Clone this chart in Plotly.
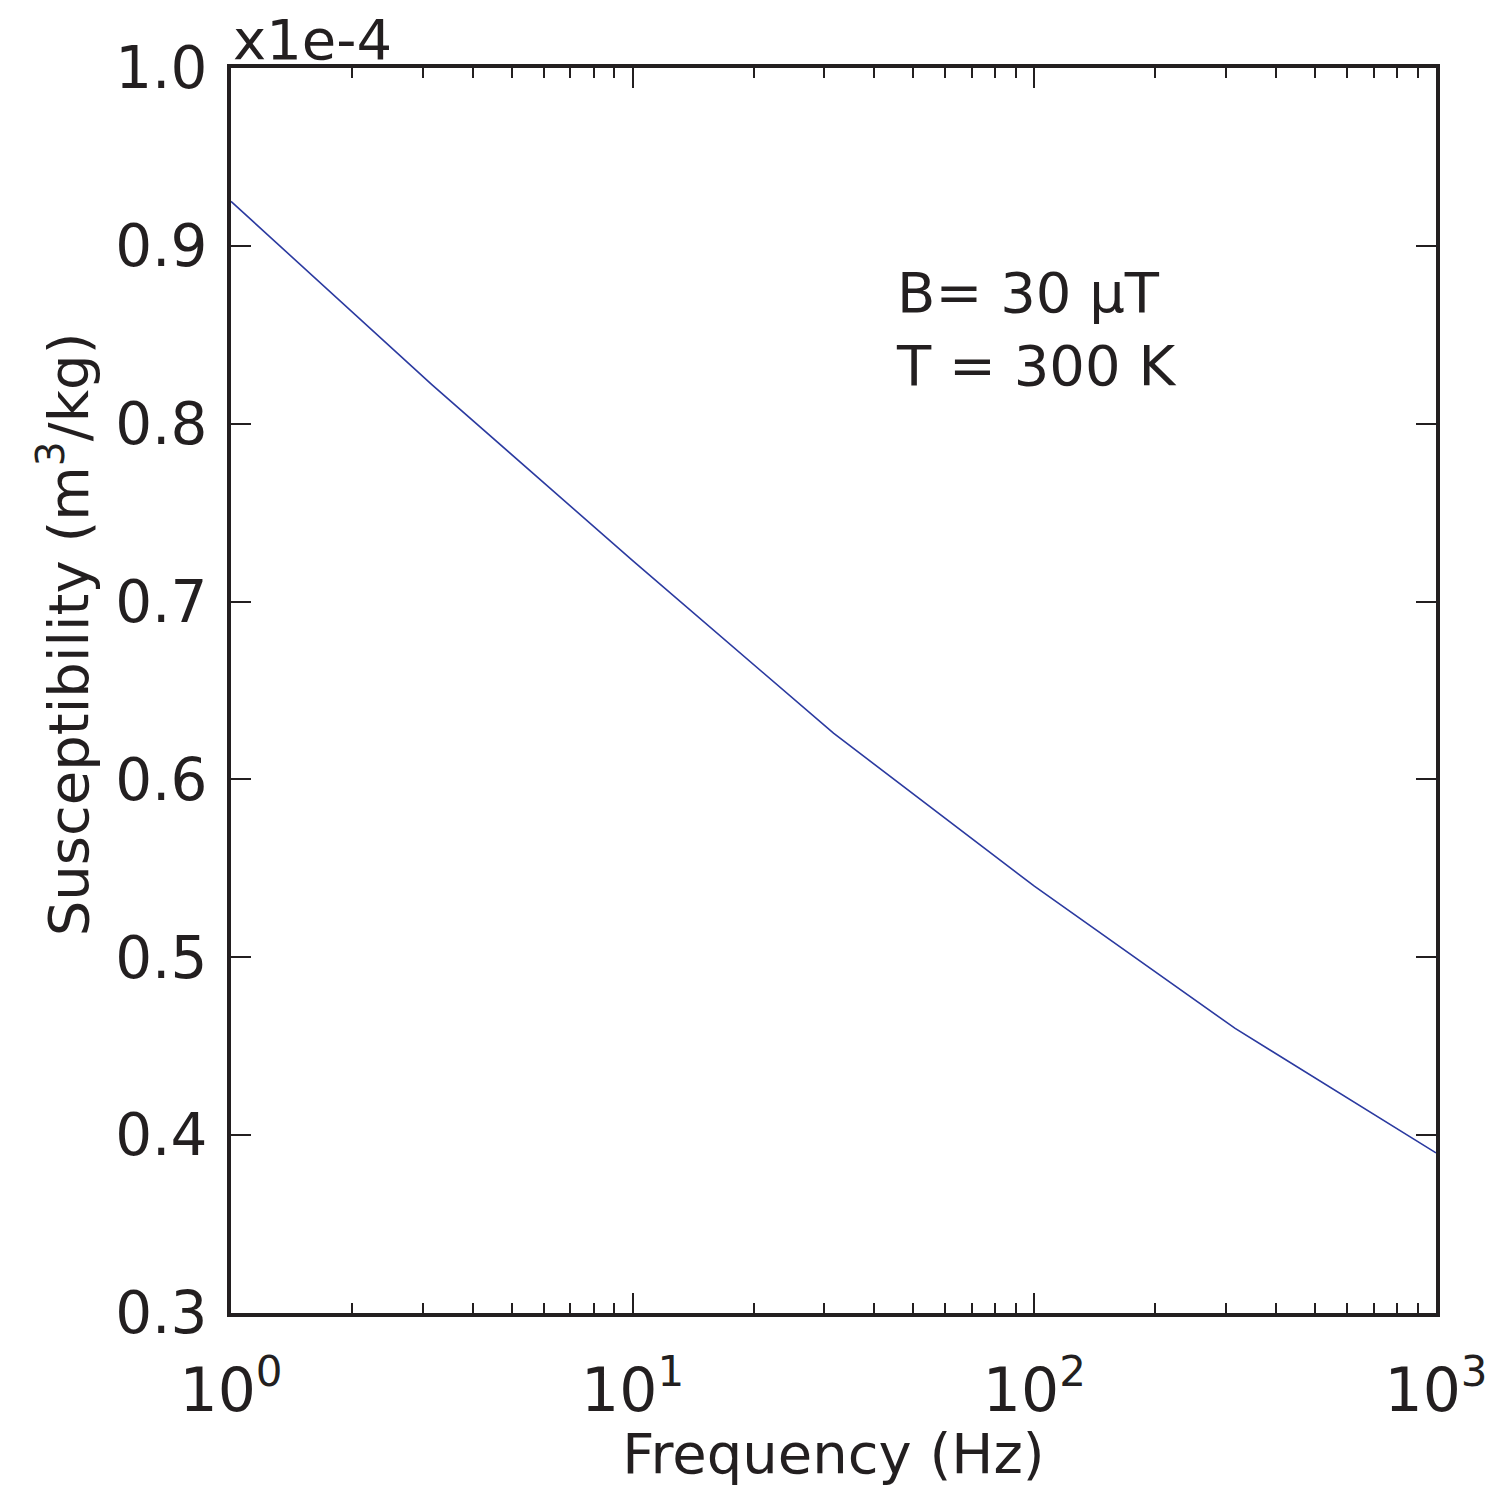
import plotly.graph_objects as go

freq_hz = [1, 3.162, 10, 31.62, 100, 316.2, 1000]
susceptibility_e4 = [0.925, 0.822, 0.723, 0.626, 0.540, 0.460, 0.390]

x_tickvals = [1, 10, 100, 1000]
x_ticktext = ["10<sup>0</sup>", "10<sup>1</sup>", "10<sup>2</sup>", "10<sup>3</sup>"]
x_minor_tickvals = [2, 3, 4, 5, 6, 7, 8, 9,
                    20, 30, 40, 50, 60, 70, 80, 90,
                    200, 300, 400, 500, 600, 700, 800, 900]
y_tickvals = [0.3, 0.4, 0.5, 0.6, 0.7, 0.8, 0.9, 1.0]
y_ticktext = ["0.3", "0.4", "0.5", "0.6", "0.7", "0.8", "0.9", "1.0"]

FONT = "DejaVu Sans"
INK = "#231f20"

fig = go.Figure()
fig.add_trace(go.Scatter(x=freq_hz, y=susceptibility_e4, mode="lines",
                         line=dict(color="#2b3aa0", width=1.6), showlegend=False))

fig.update_layout(
    width=1489, height=1486,
    margin=dict(l=231, r=53, t=68, b=173),
    paper_bgcolor="white", plot_bgcolor="white",
    font=dict(family=FONT, color=INK, size=58),
)
fig.update_xaxes(
    type="log", range=[0, 3], automargin=False,
    tickvals=x_tickvals, ticktext=x_ticktext,
    ticks="inside", ticklen=20, tickwidth=2, tickcolor=INK,
    minor=dict(tickvals=x_minor_tickvals, ticks="inside", ticklen=10, tickwidth=2,
               tickcolor=INK, showgrid=False),
    showline=True, linewidth=4, linecolor=INK, mirror="allticks",
    showgrid=False, zeroline=False,
    tickfont=dict(size=60, family=FONT),
    ticklabelstandoff=22,
    title=dict(text="Frequency (Hz)", font=dict(size=56, family=FONT), standoff=0),
)
fig.update_yaxes(
    range=[0.3, 1.0], automargin=False,
    tickvals=y_tickvals, ticktext=y_ticktext,
    ticks="inside", ticklen=20, tickwidth=2, tickcolor=INK,
    showline=True, linewidth=4, linecolor=INK, mirror="allticks",
    showgrid=False, zeroline=False,
    tickfont=dict(size=58, family=FONT),
    ticklabelstandoff=8,
)
fig.add_annotation(x=-0.138, y=0.545, xref="paper", yref="paper", xanchor="center", yanchor="middle",
                   text="Susceptibility (m<sup>3</sup>/kg)", textangle=-90, showarrow=False,
                   font=dict(size=56, family=FONT, color=INK))
fig.add_annotation(x=0, y=1, xref="paper", yref="paper", xanchor="left", yanchor="bottom",
                   text="x1e-4", showarrow=False, font=dict(size=56, family=FONT, color=INK), yshift=-6)
fig.add_annotation(x=0.55, y=0.79, xref="paper", yref="paper", xanchor="left", yanchor="middle",
                   align="left", text="B= 30 μT<br>T = 300 K", showarrow=False,
                   font=dict(size=56, family=FONT, color=INK))

fig.write_html("out.html")
